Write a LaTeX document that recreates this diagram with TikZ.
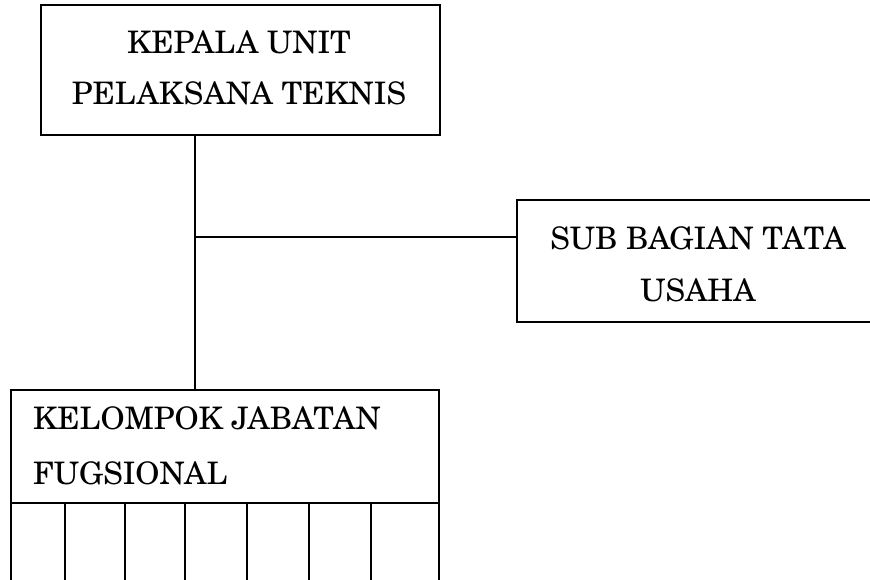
\documentclass[tikz,border=0pt]{standalone}
\usepackage{fontspec}
\setmainfont{TeX Gyre Schola}
\begin{document}
\begin{tikzpicture}[x=1pt,y=-1pt,
  box/.style={draw,line width=1.6pt,anchor=north west,inner sep=0pt},
  lbl/.style={anchor=base,inner sep=0pt,font=\fontsize{31}{36}\selectfont},
  lblw/.style={anchor=base west,inner sep=0pt,font=\fontsize{31}{36}\selectfont},
  conn/.style={line width=1.6pt}]
\useasboundingbox (0,0) rectangle (870,580);
% top box
\node[box,minimum width=399pt,minimum height=130pt] (top) at (40,4) {};
\node[lbl] (t1) at (239,54) {KEPALA UNIT};
\node[lbl] (t2) at (239,105) {PELAKSANA TEKNIS};
% right box
\node[box,minimum width=360pt,minimum height=122pt] (sub) at (516,199) {};
\node[lbl] (s1) at (698,250) {SUB BAGIAN TATA};
\node[lbl] (s2) at (698,301) {USAHA};
% bottom box
\node[box,minimum width=428pt,minimum height=205pt] (kel) at (10,389) {};
\node[lblw] (k1) at (33,429) {KELOMPOK JABATAN};
\node[lblw] (k2) at (33,484) {FUGSIONAL};
\coordinate (dl) at (10,503);
\coordinate (dr) at (438,503);
\draw[conn] (dl) -- (dr);
\foreach \x/\n in {65/a,125/b,185/c,247/d,309/e,371/f}{
  \coordinate (c\n1) at (\x,503);
  \coordinate (c\n2) at (\x,590);
  \draw[conn] (c\n1) -- (c\n2);
}
% connectors
\coordinate (tb) at (195,134);
\coordinate (kb) at (195,389);
\coordinate (j) at (195,237);
\draw[conn] (tb) -- (kb);
\draw[conn] (j) -- (sub.west |- j);
\end{tikzpicture}
\end{document}
